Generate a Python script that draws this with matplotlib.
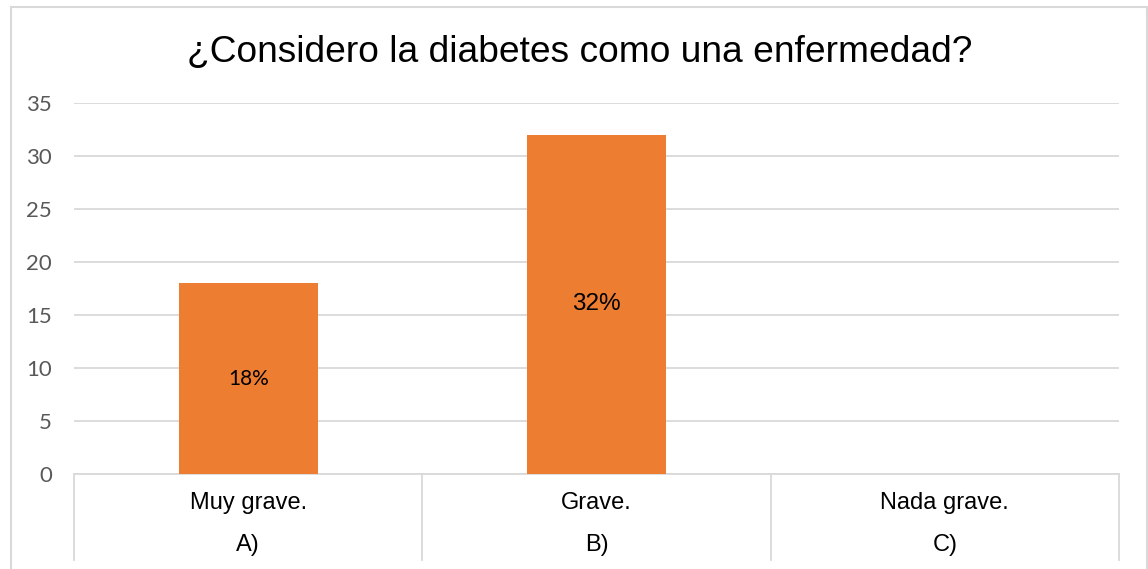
import matplotlib.pyplot as plt
from matplotlib.patches import Rectangle

# Chart data
categories = ["Muy grave.", "Grave.", "Nada grave."]
groups = ["A)", "B)", "C)"]
values = [18, 32, 0]
labels = ["18%", "32%", ""]
yticks = [0, 5, 10, 15, 20, 25, 30, 35]

W, H = 1148, 569
fig = plt.figure(figsize=(W / 100, H / 100), dpi=100)

# outer chart border (Excel style)
fig.patches.append(Rectangle((10.5 / W, -0.05), (1147 - 10.5) / W, 1.05 - 6.5 / H,
                             transform=fig.transFigure, fill=False,
                             edgecolor="#d9d9d9", linewidth=1.5))

ax = fig.add_axes([74 / W, (H - 474) / H, (1119 - 74) / W, (474 - 103) / H])
x = list(range(len(categories)))
bars = ax.bar(x, values, width=0.4, color="#ED7D31", zorder=3)

ax.set_xlim(-0.5, len(categories) - 0.5)
ax.set_ylim(0, 35)
ax.set_yticks(yticks)
ax.set_yticklabels([str(t) for t in yticks], fontfamily="Lato", fontsize=16, color="#595959")
ax.tick_params(axis="y", length=0, pad=16)
ax.set_xticks([])
ax.grid(axis="y", color="#d9d9d9", linewidth=1.3, zorder=0)
for s in ["top", "right", "left"]:
    ax.spines[s].set_visible(False)
ax.spines["bottom"].set_color("#d9d9d9")
ax.spines["bottom"].set_linewidth(1.3)

# value labels inside bars
fonts = ["Lato", "Liberation Sans", "Liberation Sans"]
sizes = [15, 17.5, 17.5]
for i, (v, lab) in enumerate(zip(values, labels)):
    if lab:
        ax.text(i, v / 2, lab, ha="center", va="center", fontsize=sizes[i],
                fontfamily=fonts[i], color="black", zorder=4)

# multi-level category axis
tr = ax.get_xaxis_transform()
for b in [i - 0.5 for i in range(len(categories) + 1)]:
    ax.plot([b, b], [0, -0.232], transform=tr, color="#d9d9d9", linewidth=1.3, clip_on=False)
for i, (c, g) in enumerate(zip(categories, groups)):
    ax.text(i, -0.078, c, transform=tr, ha="center", va="center", fontsize=17,
            fontfamily="Liberation Sans", color="black")
    ax.text(i, -0.191, g, transform=tr, ha="center", va="center", fontsize=17,
            fontfamily="Liberation Sans", color="black")

fig.text(580 / W, 1 - 52 / H, "¿Considero la diabetes como una enfermedad?", ha="center",
         va="center", fontsize=26.7, fontfamily="Liberation Sans", color="black")

fig.savefig("out.png", dpi=100)
